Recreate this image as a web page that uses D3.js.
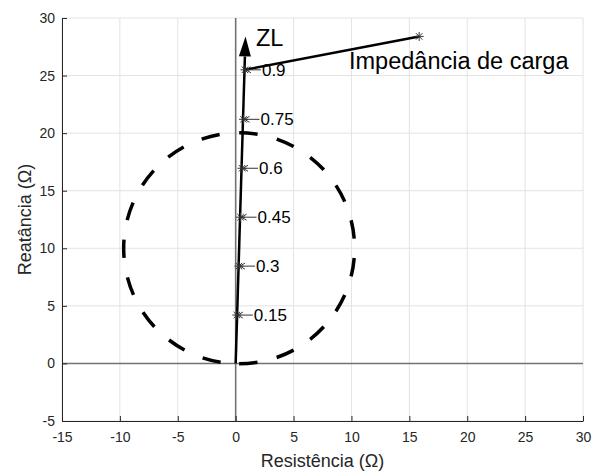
<!DOCTYPE html>
<html>
<head>
<meta charset="utf-8">
<script src="https://cdn.jsdelivr.net/npm/d3@7"></script>
<style>
  body { margin: 0; background: #fff; }
  text { font-family: "Liberation Sans", Arial, sans-serif; }
</style>
</head>
<body>
<div id="chart"></div>
<script>
// ticks for both axes
const xTicks = [-15, -10, -5, 0, 5, 10, 15, 20, 25, 30];
const yTicks = [-5, 0, 5, 10, 15, 20, 25, 30];

// points along ZL
const fracLabels = ["0.15", "0.3", "0.45", "0.6", "0.75", "0.9"];
const fracR = [0.1, 0.28, 0.42, 0.55, 0.68, 0.8];
const fracX = [4.2, 8.45, 12.7, 16.95, 21.2, 25.5];

// ZL arrow end and load impedance point
const zlTip = [0.85, 28.4];
const loadPoint = [15.85, 28.4];

// dashed circle: center and radius
const circleCenter = [0.3, 10];
const circleRadius = 10;

const W = 599, H = 472;
const margin = { top: 18, right: 16, bottom: 51, left: 62 };

const svg = d3.select("#chart").append("svg")
    .attr("width", W)
    .attr("height", H);

const x = d3.scaleLinear().domain([-15, 30]).range([margin.left, W - margin.right]);
const y = d3.scaleLinear().domain([-5, 30]).range([H - margin.bottom, margin.top]);

// grid
svg.append("g").selectAll("line").data(xTicks).enter().append("line")
    .attr("x1", d => x(d)).attr("x2", d => x(d))
    .attr("y1", y(-5)).attr("y2", y(30))
    .attr("stroke", "#e3e3e3").attr("stroke-width", 1);
svg.append("g").selectAll("line").data(yTicks).enter().append("line")
    .attr("y1", d => y(d)).attr("y2", d => y(d))
    .attr("x1", x(-15)).attr("x2", x(30))
    .attr("stroke", "#e3e3e3").attr("stroke-width", 1);

// zero lines
svg.append("line")
    .attr("x1", x(0)).attr("x2", x(0)).attr("y1", y(-5)).attr("y2", y(30))
    .attr("stroke", "#737373").attr("stroke-width", 1.6);
svg.append("line")
    .attr("x1", x(-15)).attr("x2", x(30)).attr("y1", y(0)).attr("y2", y(0))
    .attr("stroke", "#737373").attr("stroke-width", 1.6);

// axes (left + bottom, ticks inward), plain hyphen for negatives
const fmt = d => String(d);
const xAxis = svg.append("g")
    .attr("transform", `translate(0,${y(-5)})`)
    .call(d3.axisBottom(x).tickValues(xTicks).tickFormat(fmt).tickSizeInner(-5).tickSizeOuter(0).tickPadding(11));
const yAxis = svg.append("g")
    .attr("transform", `translate(${x(-15)},0)`)
    .call(d3.axisLeft(y).tickValues(yTicks).tickFormat(fmt).tickSizeInner(-5).tickSizeOuter(0).tickPadding(7));
[xAxis, yAxis].forEach(g => {
    g.select(".domain").attr("stroke", "#262626");
    g.selectAll(".tick line").attr("stroke", "#262626");
    g.selectAll(".tick text").attr("fill", "#262626")
        .style("font-size", "14px")
        .style("font-family", "'Liberation Sans', Arial, sans-serif");
});

// axis titles
svg.append("text")
    .attr("x", (x(-15) + x(30)) / 2).attr("y", 467)
    .attr("text-anchor", "middle").attr("fill", "#262626")
    .style("font-size", "18px")
    .text("Resistência (Ω)");
svg.append("text")
    .attr("transform", `translate(31,${(y(-5) + y(30)) / 2}) rotate(-90)`)
    .attr("text-anchor", "middle").attr("fill", "#262626")
    .style("font-size", "18px")
    .text("Reatância (Ω)");

// dashed circle, starting at the bottom and going right/up
const rPx = ((x(circleRadius) - x(0)) + (y(0) - y(circleRadius))) / 2;
const cp = d3.path();
cp.moveTo(x(circleCenter[0]), y(circleCenter[1]) + rPx);
cp.arc(x(circleCenter[0]), y(circleCenter[1]), rPx, Math.PI / 2, Math.PI / 2 - 2 * Math.PI, true);
svg.append("path")
    .attr("d", cp.toString())
    .attr("fill", "none")
    .attr("stroke", "#000")
    .attr("stroke-width", 3.5)
    .attr("stroke-dasharray", "18.5,19.7");

// ZL arrow
const x0 = x(0), y0 = y(0), x1 = x(zlTip[0]), y1 = y(zlTip[1]);
const len = Math.hypot(x1 - x0, y1 - y0);
const ux = (x1 - x0) / len, uy = (y1 - y0) / len;
const headL = 20, headW = 6;
const bx = x1 - ux * headL, by = y1 - uy * headL;
svg.append("line")
    .attr("x1", x0).attr("y1", y0).attr("x2", bx).attr("y2", by)
    .attr("stroke", "#000").attr("stroke-width", 2.5);
svg.append("path")
    .attr("d", `M${x1},${y1}L${bx - uy * headW},${by + ux * headW}L${bx + uy * headW},${by - ux * headW}Z`)
    .attr("fill", "#000");

// line from 0.9 point to the load impedance
svg.append("line")
    .attr("x1", x(fracR[5])).attr("y1", y(fracX[5]))
    .attr("x2", x(loadPoint[0])).attr("y2", y(loadPoint[1]))
    .attr("stroke", "#000").attr("stroke-width", 2.5);

// asterisk markers
function asterisk(g, px, py) {
    const s = 4.5;
    [[s, 0], [0, s], [s * 0.72, s * 0.72], [s * 0.72, -s * 0.72]].forEach(([dx, dy]) => {
        g.append("line")
            .attr("x1", px - dx).attr("y1", py - dy)
            .attr("x2", px + dx).attr("y2", py + dy)
            .attr("stroke", "#333").attr("stroke-width", 1);
    });
}
const marks = svg.append("g");
fracR.forEach((r, i) => asterisk(marks, x(r), y(fracX[i])));
asterisk(marks, x(loadPoint[0]), y(loadPoint[1]));

// fraction labels with little leader arrows (like \leftarrow)
const lab = svg.append("g").selectAll("g").data(fracLabels).enter().append("g")
    .attr("transform", (d, i) => `translate(${x(fracR[i])},${y(fracX[i])})`);
lab.append("path")
    .attr("d", "M1,0H16M1,0L6,-3M1,0L6,3")
    .attr("fill", "none").attr("stroke", "#333").attr("stroke-width", 1);
lab.append("text")
    .attr("x", 17).attr("dy", "0.36em")
    .style("font-size", "17px")
    .attr("fill", "#000")
    .text(d => d);

// annotations
svg.append("text")
    .attr("x", 256).attr("y", 46)
    .style("font-size", "23.5px").attr("fill", "#000")
    .text("ZL");
svg.append("text")
    .attr("x", 349).attr("y", 69)
    .style("font-size", "23.5px").attr("fill", "#000")
    .text("Impedância de carga");
</script>
</body>
</html>
